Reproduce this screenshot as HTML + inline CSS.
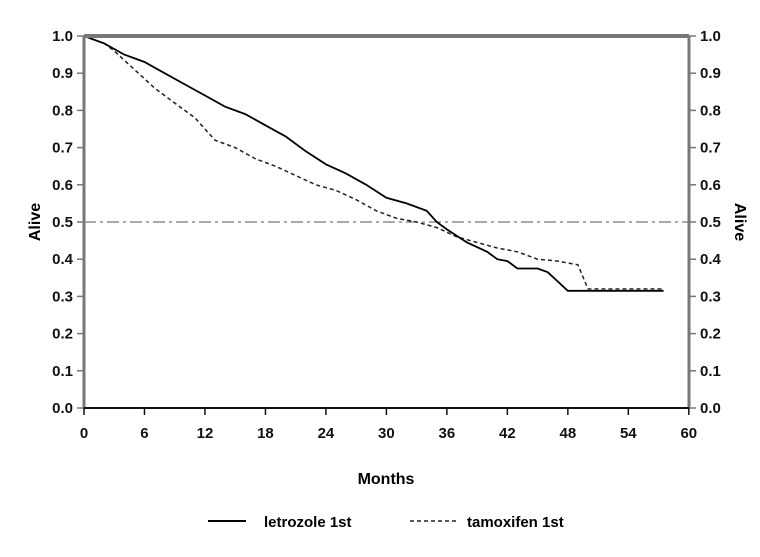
<!DOCTYPE html><html><head><style>body{margin:0;background:#fff}svg{font-family:"Liberation Sans",sans-serif}</style></head><body>
<svg id="s" width="760" height="552" xmlns="http://www.w3.org/2000/svg">
<g font-size="15" fill="#111" font-weight="bold" id="lab"></g>
<line x1="84" y1="222" x2="689" y2="222" stroke="#555" stroke-width="1" stroke-dasharray="12,4,3,4"/>
<polyline id="t" fill="none" stroke="#222" stroke-width="1.5" stroke-dasharray="4,3"/>
<polyline id="l" fill="none" stroke="#000" stroke-width="1.8"/>
<line x1="84" y1="36" x2="689" y2="36" stroke="#777" stroke-width="4"/>
<line x1="84" y1="36" x2="84" y2="408" stroke="#777" stroke-width="3"/>
<line x1="689" y1="36" x2="689" y2="408" stroke="#777" stroke-width="3"/>
<line x1="84" y1="408" x2="689" y2="408" stroke="#111" stroke-width="2"/>
<text x="0" y="0" transform="translate(40,222) rotate(-90)" text-anchor="middle" font-size="16" font-weight="bold">Alive</text>
<text x="0" y="0" transform="translate(735,222) rotate(90)" text-anchor="middle" font-size="16" font-weight="bold">Alive</text>
<text x="386" y="484" text-anchor="middle" font-size="16" font-weight="bold">Months</text>
<line x1="208" y1="521" x2="246" y2="521" stroke="#000" stroke-width="2"/>
<text x="264" y="527" font-size="15" font-weight="bold">letrozole 1st</text>
<line x1="410" y1="521" x2="456" y2="521" stroke="#222" stroke-width="1.5" stroke-dasharray="4,3"/>
<text x="467" y="527" font-size="15" font-weight="bold">tamoxifen 1st</text>
</svg>
<script>
var X=m=>84+10.08*m,Y=v=>408-372*v;
var L=[[0,1],[2,.98],[4,.95],[6,.93],[8,.9],[10,.87],[12,.84],[14,.81],[16,.79],[18,.76],[20,.73],[22,.69],[24,.655],[26,.63],[28,.6],[30,.565],[32,.55],[34,.53],[35,.5],[36,.48],[38,.445],[40,.42],[41,.4],[42,.395],[43,.375],[45,.375],[46,.365],[47,.34],[48,.315],[57.5,.315]];
var T=[[0,1],[2,.98],[3,.96],[5,.91],[7,.86],[9,.82],[11,.78],[13,.72],[15,.7],[17,.67],[19,.65],[21,.625],[23,.6],[25,.585],[27,.56],[29,.53],[31,.51],[33,.5],[35,.485],[37,.46],[39,.445],[41,.43],[43,.42],[45,.4],[47,.395],[49,.385],[50,.32],[57.5,.32]];
var f=a=>a.map(p=>X(p[0]).toFixed(1)+","+Y(p[1]).toFixed(1)).join(" ");
document.getElementById("l").setAttribute("points",f(L));
document.getElementById("t").setAttribute("points",f(T));
var h="";
for(var i=0;i<=10;i++){var y=Y(i/10),s=(i/10).toFixed(1);
h+=`<line x1="77" y1="${y}" x2="84" y2="${y}" stroke="#777" stroke-width="1.5"/><line x1="689" y1="${y}" x2="696" y2="${y}" stroke="#777" stroke-width="1.5"/><text x="73" y="${y+5}" text-anchor="end">${s}</text><text x="700" y="${y+5}">${s}</text>`;}
for(var m=0;m<=60;m+=6){var x=X(m);h+=`<line x1="${x}" y1="408" x2="${x}" y2="415" stroke="#111" stroke-width="1.5"/><text x="${x}" y="438" text-anchor="middle">${m}</text>`;}
document.getElementById("lab").innerHTML=h;
</script></body></html>
